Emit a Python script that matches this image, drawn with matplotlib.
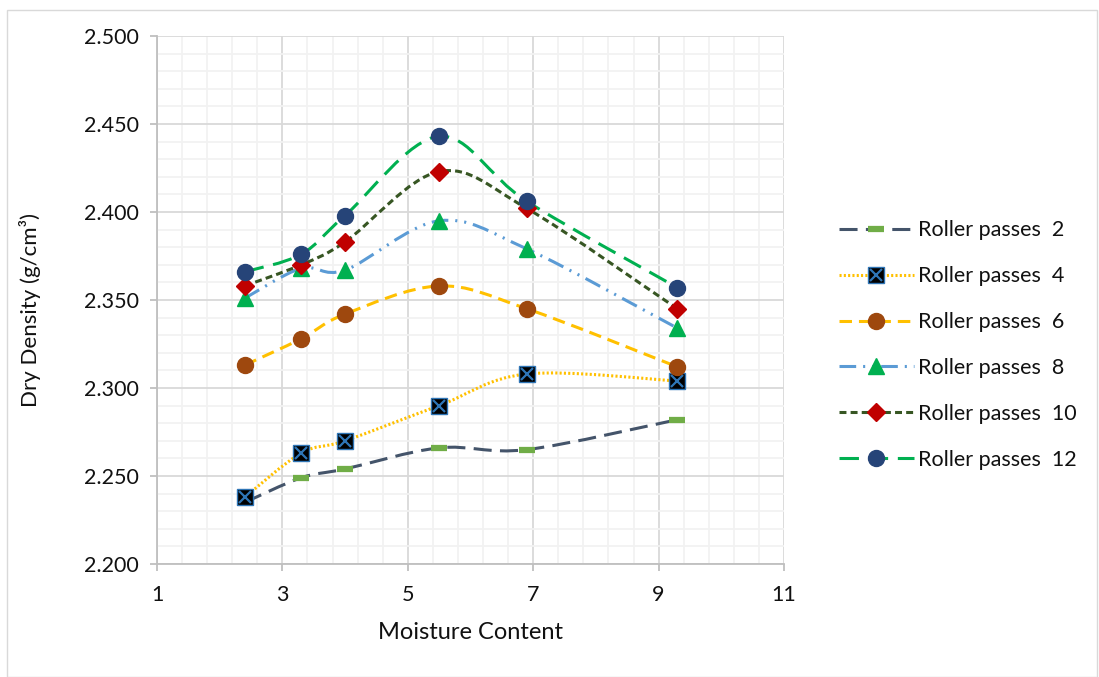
import matplotlib
matplotlib.use("Agg")
import matplotlib.pyplot as plt
from matplotlib.path import Path
from matplotlib.patches import PathPatch, Rectangle
from matplotlib.lines import Line2D
from matplotlib.ticker import MultipleLocator, FormatStrFormatter

plt.rcParams['font.family'] = ['Lato', 'DejaVu Sans']
plt.rcParams['lines.scale_dashes'] = False

# Moisture content (%) at which each set of samples was tested
moisture = [2.4, 3.3, 4.0, 5.5, 6.9, 9.3]

# Dry density (g/cm3) for each number of roller passes
passes_2 = [2.235, 2.249, 2.254, 2.266, 2.265, 2.282]
passes_4 = [2.238, 2.263, 2.270, 2.290, 2.308, 2.304]
passes_6 = [2.313, 2.328, 2.342, 2.358, 2.345, 2.312]
passes_8 = [2.351, 2.368, 2.367, 2.395, 2.379, 2.334]
passes_10 = [2.358, 2.370, 2.383, 2.423, 2.402, 2.345]
passes_12 = [2.366, 2.376, 2.398, 2.443, 2.406, 2.357]

labels = ["Roller passes  2", "Roller passes  4", "Roller passes  6",
          "Roller passes  8", "Roller passes  10", "Roller passes  12"]


def smooth_path(xs, ys):
    """Smoothed connector through the points (cubic Bezier segments)."""
    pts = list(zip(xs, ys))
    n = len(pts)
    verts = [pts[0]]
    codes = [Path.MOVETO]
    for i in range(n - 1):
        p0 = pts[i - 1] if i > 0 else pts[i]
        p1 = pts[i]
        p2 = pts[i + 1]
        p3 = pts[i + 2] if i + 2 < n else pts[i + 1]
        c1 = (p1[0] + (p2[0] - p0[0]) / 6.0, p1[1] + (p2[1] - p0[1]) / 6.0)
        c2 = (p2[0] - (p3[0] - p1[0]) / 6.0, p2[1] - (p3[1] - p1[1]) / 6.0)
        verts += [c1, c2, p2]
        codes += [Path.CURVE4, Path.CURVE4, Path.CURVE4]
    return Path(verts, codes)


W, H = 1099, 677
fig = plt.figure(figsize=(W / 100, H / 100), dpi=100)
fig.patch.set_facecolor("white")

# light outer frame
fig.patches.append(Rectangle((7 / W, 0), (W - 9) / W, (H - 10) / H,
                             transform=fig.transFigure, fill=False,
                             edgecolor="#D9D9D9", lw=1.0))

ax = fig.add_axes([157 / W, 1 - 564 / H, (784 - 157) / W, (564 - 36) / H])
ax.set_xlim(1, 11)
ax.set_ylim(2.2, 2.5)

ax.xaxis.set_major_locator(MultipleLocator(2, offset=1))
ax.xaxis.set_minor_locator(MultipleLocator(0.4, offset=0.2))
ax.yaxis.set_major_locator(MultipleLocator(0.05))
ax.yaxis.set_minor_locator(MultipleLocator(0.01))
ax.yaxis.set_major_formatter(FormatStrFormatter("%.3f"))

ax.grid(which="minor", color="#F2F2F2", lw=1.3)
ax.grid(which="major", color="#D9D9D9", lw=1.3)
ax.set_axisbelow(True)

for side in ("top", "right"):
    ax.spines[side].set_visible(False)
for side in ("left", "bottom"):
    ax.spines[side].set_color("#BFBFBF")
    ax.spines[side].set_linewidth(1.3)

ax.tick_params(which="major", length=5, width=1.3, color="#BFBFBF",
               labelsize=15.5, labelcolor="#111111")
ax.tick_params(axis="y", which="major", pad=8)
ax.tick_params(axis="x", which="major", pad=10)
ax.tick_params(which="minor", length=0)

ax.set_xlabel("Moisture Content", fontsize=17, color="#111111")
ax.set_ylabel("Dry Density (g/cm³)", fontsize=16, color="#111111")
ax.xaxis.set_label_coords(0.5, (564 - 622) / 528)
ax.yaxis.set_label_coords((41 - 157) / 627, (564 - 310) / 528)

series = [
    dict(y=passes_2, color="#44546A", dashes=(13, 6), lw=2.2,
         marker="_", ms=11, mfc="#70AD47", mec="#70AD47", mew=4.5),
    dict(y=passes_4, color="#FFC000", dashes=(1.5, 1.6), lw=2.2,
         marker="s", ms=11, mfc="black", mec="#2E75B6", mew=1.0),
    dict(y=passes_6, color="#FFC000", dashes=(9, 5), lw=2.2,
         marker="o", ms=11.5, mfc="#9E480E", mec="#9E480E", mew=1.0),
    dict(y=passes_8, color="#5B9BD5", dashes=(12, 5, 1.5, 5, 1.5, 5), lw=2.2,
         marker="^", ms=11, mfc="#00B050", mec="#00B050", mew=1.0),
    dict(y=passes_10, color="#375623", dashes=(5, 3), lw=2.2,
         marker="D", ms=9, mfc="#C00000", mec="#C00000", mew=1.0),
    dict(y=passes_12, color="#00B050", dashes=(14, 7), lw=2.2,
         marker="o", ms=11.5, mfc="#264478", mec="#264478", mew=1.0),
]

handles = []
for k, s in enumerate(series):
    ls = (0, s["dashes"])
    patch = PathPatch(smooth_path(moisture, s["y"]), fill=False,
                      edgecolor=s["color"], lw=s["lw"], linestyle=ls,
                      zorder=3 + k * 0.1)
    ax.add_patch(patch)
    ax.plot(moisture, s["y"], linestyle="none", marker=s["marker"],
            ms=s["ms"], mfc=s["mfc"], mec=s["mec"], mew=s["mew"],
            zorder=4 + k * 0.1, clip_on=False)
    if s["marker"] == "s":
        ax.plot(moisture, s["y"], linestyle="none", marker="x", ms=8,
                mec="#2E75B6", mew=1.6, zorder=4.05 + k * 0.1, clip_on=False)
    h = Line2D([], [], color=s["color"], lw=s["lw"], linestyle=ls,
               marker=s["marker"], ms=s["ms"], mfc=s["mfc"], mec=s["mec"],
               mew=s["mew"])
    if s["marker"] == "s":
        hx = Line2D([], [], linestyle="none", marker="x", ms=8,
                    mec="#2E75B6", mew=1.6)
        h = (h, hx)
    handles.append(h)

leg = fig.legend(handles, labels, loc="center left",
                 bbox_to_anchor=(828 / W, 1 - 345 / H), frameon=False,
                 fontsize=15.5, handlelength=3.5, handletextpad=0.2,
                 labelspacing=1.2, numpoints=1, borderpad=0)
for t in leg.get_texts():
    t.set_color("#111111")

fig.savefig("out.png", dpi=100, facecolor="white")
